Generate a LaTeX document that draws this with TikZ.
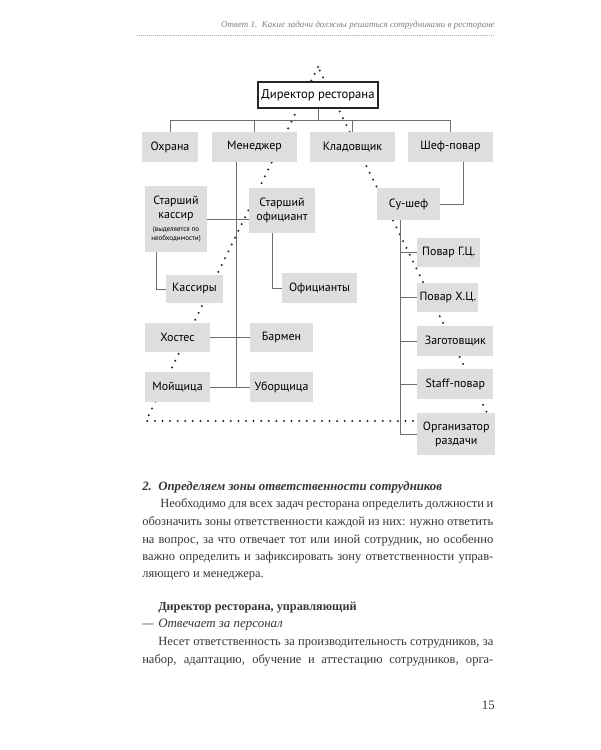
\documentclass[tikz,border=0pt]{standalone}
\usepackage{fontspec}
\setmainfont{Liberation Serif}
\newfontfamily\chartfont{PT Sans}
\usetikzlibrary{backgrounds}
\definecolor{BoxGray}{RGB}{222,222,222}
\definecolor{LineGray}{RGB}{110,110,110}
\definecolor{InkGray}{RGB}{55,55,55}
\newcommand{\fullline}[2]{\makebox[#1][s]{#2}}

\begin{document}
\begin{tikzpicture}[x=0.025cm, y=-0.025cm,
        post/.style={fill=BoxGray, inner sep=1pt, align=center, font=\chartfont\fontsize{8.5}{10}\selectfont, minimum height=0.73cm},
        boss/.style={draw=black!85, fill=white, line width=1.6pt, inner sep=2pt, minimum width=3cm, minimum height=0.65cm, font=\chartfont\fontsize{9}{10}\selectfont},
        link/.style={draw=LineGray, line width=0.6pt},
        chain/.style={draw=black!85, line width=1.6pt, line cap=round, dash pattern=on 0pt off 5.4pt},
        body/.style={anchor=base west, inner sep=0pt, font=\fontsize{8.9}{12}\selectfont, text=InkGray}
    ]
        \useasboundingbox (0,0) rectangle (600,750);

        % Running head
        \node[anchor=base east, inner sep=0pt, font=\itshape\fontsize{6.4}{8}\selectfont, text=gray] (head) at (495,27) {Ответ 1.\ \ Какие задачи должны решаться сотрудниками в ресторане};
        \coordinate (rule) at (137,35);
        \draw[gray!60, densely dotted, line width=0.4pt] (rule) -- (rule -| head.east);

        % Top of the chart
        \node[boss] (dir) at (318,95) {Директор ресторана};
        \node[post, minimum width=1.4cm] (ohr) at (170,147) {Охрана};
        \node[post, minimum width=2.125cm] (men) at (254.5,147) {Менеджер};
        \node[post, minimum width=2.125cm] (klad) at (352.5,147) {Кладовщик};
        \node[post, minimum width=2.125cm] (shef) at (450.5,147) {Шеф-повар};

        % Hall staff
        \node[post, minimum width=1.55cm, minimum height=1.65cm] (stkas) at (176,219) {Старший\\кассир\\[-1pt]{\fontsize{5}{6}\selectfont(выделяется по}\\[-3.5pt]{\fontsize{5}{6}\selectfont необходимости)}};
        \node[post, minimum width=1.65cm, minimum height=1.125cm] (stofc) at (282,210.5) {Старший\\официант};
        \node[post, minimum width=1.425cm, minimum height=0.7cm] (kass) at (194.5,289) {Кассиры};
        \node[post, minimum width=1.875cm, minimum height=0.75cm] (ofc) at (319.5,288) {Официанты};
        \node[post, minimum width=1.625cm] (host) at (177.5,337.5) {Хостес};
        \node[post, minimum width=1.575cm] (barm) at (281.5,337.5) {Бармен};
        \node[post, minimum width=1.625cm] (moy) at (177.5,387) {Мойщица};
        \node[post, minimum width=1.575cm] (ubor) at (281.5,387) {Уборщица};

        % Kitchen staff
        \node[post, minimum width=1.575cm, minimum height=0.8cm] (sous) at (408.5,204) {Су-шеф};
        \node[post, anchor=west, minimum width=1.575cm] (gc) at (417,252.5) {Повар Г.Ц.};
        \node[post, anchor=west, minimum width=1.525cm] (hc) at (417,297.5) {Повар Х.Ц.};
        \node[post, anchor=west, minimum width=1.9cm] (zag) at (417,341) {Заготовщик};
        \node[post, anchor=west, minimum width=1.9cm] (staff) at (417,384) {Staff-повар};
        \node[post, anchor=west, minimum width=1.95cm, minimum height=1.05cm] (org) at (417,434) {Организатор\\раздачи};

        % Solid lines
        \coordinate (bus) at (0,120);
        \draw[link] (dir.south) -- (dir.south |- bus);
        \draw[link] (ohr.north) |- (bus -| shef.north) -- (shef.north);
        \draw[link] (men.north) -- (men.north |- bus);
        \draw[link] (klad.north) -- (klad.north |- bus);

        \coordinate (mx) at (236,0);
        \draw[link] (men.south -| mx) -- (moy.east -| mx);
        \draw[link] (stkas.east) -- (stkas.east -| stofc.west);
        \draw[link] (host.east) -- (barm.west);
        \draw[link] (moy.east) -- (ubor.west);
        \draw[link] ([xshift=-0.5cm]stkas.south) |- (kass.west);
        \draw[link] ([xshift=-0.25cm]stofc.south) |- (ofc.west);

        \coordinate (kx) at (400,0);
        \draw[link] ([xshift=0.3125cm]shef.south) |- (sous.east);
        \draw[link] (sous.south -| kx) |- (org.west);
        \foreach \n in {gc,hc,zag,staff}
            \draw[link] (\n.west -| kx) -- (\n.west);

        % Dotted triangle behind the boxes
        \begin{scope}[on background layer]
            \fill[white] (0,0) rectangle (600,750);
            \coordinate (apex) at (318,67);
            \coordinate (cl) at (146,421);
            \coordinate (cr) at (491,421);
            \draw[chain] (apex) -- (cl) [rounded corners=5pt] -- (cr) [sharp corners] -- cycle;
        \end{scope}

        % Text below the chart
        \node[body, font=\bfseries\itshape\fontsize{9.1}{12}\selectfont] (sect) at (142,490) {2.\ \ Определяем зоны ответственности сотрудников};
        \node[body] (p1) at (160,507) {\fullline{8.325cm}{Необходимо для всех задач ресторана определить должности и}};
        \node[body] (p2) at (142,525) {\fullline{8.775cm}{обозначить зоны ответственности каждой из них: нужно ответить}};
        \node[body] (p3) at (142,543) {\fullline{8.775cm}{на вопрос, за что отвечает тот или иной сотрудник, но особенно}};
        \node[body] (p4) at (142,560) {\fullline{8.775cm}{важно определить и зафиксировать зону ответственности управ-}};
        \node[body] (p5) at (142,577) {ляющего и менеджера.};
        \node[body, font=\bfseries\fontsize{8.7}{12}\selectfont] (role) at (158,610) {Директор ресторана, управляющий};
        \node[body, font=\itshape\fontsize{9.2}{12}\selectfont] (duty) at (142,627) {\makebox[0.4cm][l]{—}Отвечает за персонал};
        \node[body] (q1) at (158,645) {\fullline{8.375cm}{Несет ответственность за производительность сотрудников, за}};
        \node[body] (q2) at (142,663) {\fullline{8.775cm}{набор, адаптацию, обучение и аттестацию сотрудников, орга-}};
        \node[body, font=\fontsize{9.2}{12}\selectfont, anchor=base east] (pno) at (495,709) {15};
    \end{tikzpicture}
\end{document}
